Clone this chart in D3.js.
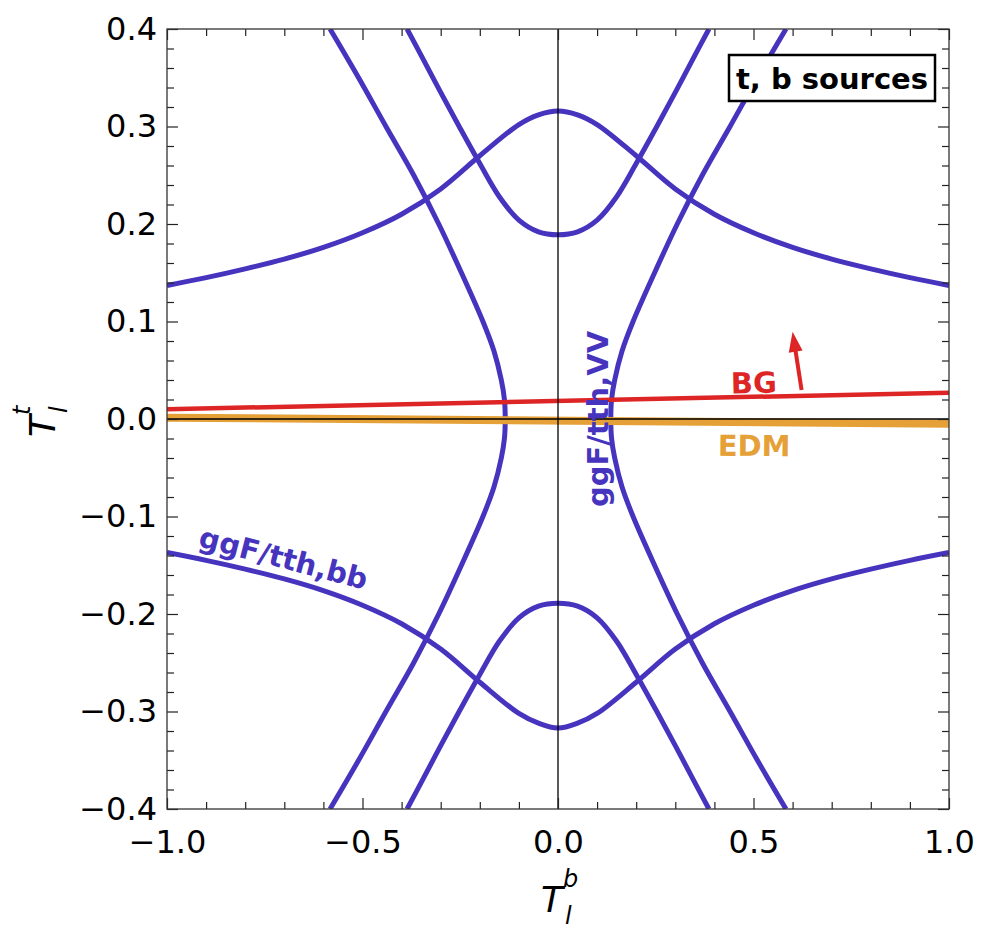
<!DOCTYPE html>
<html>
<head>
<meta charset="utf-8">
<script src="https://cdn.jsdelivr.net/npm/d3@7"></script>
<style>
  html, body { margin: 0; padding: 0; background: #fff; }
  svg { display: block; font-family: "DejaVu Sans", sans-serif; }
</style>
</head>
<body>
<svg id="chart" width="986" height="930"></svg>
<script>
// Axis ranges and ticks
const xDomain = [-1, 1];
const yDomain = [-0.4, 0.4];
const xMajorTicks = [-1, -0.5, 0, 0.5, 1];
const xMinorTicks = [-0.9, -0.8, -0.7, -0.6, -0.4, -0.3, -0.2, -0.1, 0.1, 0.2, 0.3, 0.4, 0.6, 0.7, 0.8, 0.9];
const yMajorTicks = [-0.4, -0.3, -0.2, -0.1, 0, 0.1, 0.2, 0.3, 0.4];
const yMinorTicks = [-0.38, -0.36, -0.34, -0.32, -0.28, -0.26, -0.24, -0.22, -0.18, -0.16, -0.14, -0.12,
  -0.08, -0.06, -0.04, -0.02, 0.02, 0.04, 0.06, 0.08, 0.12, 0.14, 0.16, 0.18, 0.22, 0.24, 0.26, 0.28,
  0.32, 0.34, 0.36, 0.38];

// ggF/tth, bb contours: outer (bell-shaped) branches, [T_l^b, T_l^t]
const bbOuterTop = [[-1, 0.137], [-0.9, 0.145], [-0.8, 0.154], [-0.7, 0.164], [-0.6, 0.176], [-0.5, 0.191],
  [-0.4, 0.210], [-0.3, 0.236], [-0.2, 0.270], [-0.1, 0.302], [-0.05, 0.312], [0, 0.316], [0.05, 0.312],
  [0.1, 0.302], [0.2, 0.270], [0.3, 0.236], [0.4, 0.210], [0.5, 0.191], [0.6, 0.176], [0.7, 0.164],
  [0.8, 0.154], [0.9, 0.145], [1, 0.137]];
const bbOuterBottom = [[-1, -0.137], [-0.9, -0.145], [-0.8, -0.154], [-0.7, -0.164], [-0.6, -0.176], [-0.5, -0.191],
  [-0.4, -0.210], [-0.3, -0.236], [-0.2, -0.270], [-0.1, -0.302], [-0.05, -0.312], [0, -0.317], [0.05, -0.312],
  [0.1, -0.302], [0.2, -0.270], [0.3, -0.236], [0.4, -0.210], [0.5, -0.191], [0.6, -0.176], [0.7, -0.164],
  [0.8, -0.154], [0.9, -0.145], [1, -0.137]];
// ggF/tth, bb contours: inner (U-shaped) branches
const bbInnerTop = [[-0.386, 0.4], [-0.35, 0.373], [-0.3, 0.335], [-0.25, 0.298], [-0.2, 0.262], [-0.15, 0.228],
  [-0.1, 0.204], [-0.05, 0.192], [0, 0.189], [0.05, 0.192], [0.1, 0.204], [0.15, 0.228], [0.2, 0.262],
  [0.25, 0.298], [0.3, 0.335], [0.35, 0.373], [0.386, 0.4]];
const bbInnerBottom = [[-0.386, -0.4], [-0.35, -0.373], [-0.3, -0.335], [-0.25, -0.298], [-0.2, -0.262], [-0.15, -0.228],
  [-0.1, -0.204], [-0.05, -0.192], [0, -0.189], [0.05, -0.192], [0.1, -0.204], [0.15, -0.228], [0.2, -0.262],
  [0.25, -0.298], [0.3, -0.335], [0.35, -0.373], [0.386, -0.4]];
// ggF/tth, VV contours: left and right branches
const vvLeft = [[-0.583, 0.4], [-0.51, 0.35], [-0.44, 0.3], [-0.369, 0.25], [-0.305, 0.2], [-0.247, 0.15],
  [-0.192, 0.1], [-0.164, 0.07], [-0.145, 0.04], [-0.137, 0.02], [-0.135, 0], [-0.137, -0.02], [-0.145, -0.04],
  [-0.164, -0.07], [-0.192, -0.1], [-0.247, -0.15], [-0.305, -0.2], [-0.369, -0.25], [-0.44, -0.3],
  [-0.51, -0.35], [-0.583, -0.4]];
const vvRight = [[0.583, 0.4], [0.51, 0.35], [0.44, 0.3], [0.369, 0.25], [0.305, 0.2], [0.247, 0.15],
  [0.192, 0.1], [0.164, 0.07], [0.145, 0.04], [0.137, 0.02], [0.135, 0], [0.137, -0.02], [0.145, -0.04],
  [0.164, -0.07], [0.192, -0.1], [0.247, -0.15], [0.305, -0.2], [0.369, -0.25], [0.44, -0.3],
  [0.51, -0.35], [0.583, -0.4]];
// Baryogenesis (BG) line and the EDM band centre line
const bgLine = [[-1, 0.010], [1, 0.027]];
const edmLine = [[-1, 0.0014], [1, -0.0049]];
// Arrow pointing to the BG-allowed side
const bgArrow = [[0.623, 0.0297], [0.600, 0.0894]];

const COL_BLUE = "#4634BE";
const COL_RED = "#DD2525";
const COL_ORANGE = "#E5A138";

const svg = d3.select("#chart");
const L = 167, R = 949, T = 29, B = 809;
const x = d3.scaleLinear().domain(xDomain).range([L, R]);
const y = d3.scaleLinear().domain(yDomain).range([B, T]);

svg.append("defs").append("clipPath").attr("id", "plotClip")
  .append("rect").attr("x", L).attr("y", T).attr("width", R - L).attr("height", B - T);

const plot = svg.append("g").attr("clip-path", "url(#plotClip)");
const smooth = d3.line().x(d => x(d[0])).y(d => y(d[1])).curve(d3.curveCatmullRom.alpha(0.5));
const straight = d3.line().x(d => x(d[0])).y(d => y(d[1]));

[bbOuterTop, bbOuterBottom, bbInnerTop, bbInnerBottom, vvLeft, vvRight].forEach(c => {
  plot.append("path").attr("d", smooth(c)).attr("fill", "none")
    .attr("stroke", COL_BLUE).attr("stroke-width", 5).attr("stroke-linejoin", "round");
});

plot.append("path").attr("d", straight(edmLine)).attr("fill", "none")
  .attr("stroke", COL_ORANGE).attr("stroke-width", 8);
plot.append("path").attr("d", straight(bgLine)).attr("fill", "none")
  .attr("stroke", COL_RED).attr("stroke-width", 4.5);

// zero lines
plot.append("line").attr("x1", x(0)).attr("x2", x(0)).attr("y1", T).attr("y2", B)
  .attr("stroke", "#000").attr("stroke-width", 1.3);
plot.append("line").attr("x1", L).attr("x2", R).attr("y1", y(0)).attr("y2", y(0))
  .attr("stroke", "#000").attr("stroke-width", 1.3);

// arrow
{
  const [p0, p1] = bgArrow.map(d => [x(d[0]), y(d[1])]);
  const dx = p1[0] - p0[0], dy = p1[1] - p0[1];
  const len = Math.hypot(dx, dy), ux = dx / len, uy = dy / len;
  const headLen = 20, headW = 7;
  const bx = p1[0] - ux * headLen, by = p1[1] - uy * headLen;
  plot.append("line").attr("x1", p0[0]).attr("y1", p0[1]).attr("x2", bx + ux * 2).attr("y2", by + uy * 2)
    .attr("stroke", COL_RED).attr("stroke-width", 4);
  plot.append("path")
    .attr("d", `M${p1[0]},${p1[1]}L${bx - uy * headW},${by + ux * headW}L${bx + uy * headW},${by - ux * headW}Z`)
    .attr("fill", COL_RED);
}

// frame axes with inward ticks
const fmt = d3.format(".1f");
function styleAxis(g) {
  g.select(".domain").remove();
  g.selectAll(".tick line").attr("stroke", "#222").attr("stroke-width", 1.2);
  g.selectAll(".tick text").attr("font-size", 32).attr("fill", "#000")
    .attr("font-family", "DejaVu Sans, sans-serif");
}
svg.append("g").attr("transform", `translate(0,${B})`)
  .call(d3.axisBottom(x).tickValues(xMajorTicks).tickFormat(fmt).tickSize(-11).tickPadding(21)).call(styleAxis);
svg.append("g").attr("transform", `translate(0,${B})`)
  .call(d3.axisBottom(x).tickValues(xMinorTicks).tickFormat("").tickSize(-7)).call(styleAxis);
svg.append("g").attr("transform", `translate(0,${T})`)
  .call(d3.axisTop(x).tickValues(xMajorTicks).tickFormat("").tickSize(-11)).call(styleAxis);
svg.append("g").attr("transform", `translate(0,${T})`)
  .call(d3.axisTop(x).tickValues(xMinorTicks).tickFormat("").tickSize(-7)).call(styleAxis);
svg.append("g").attr("transform", `translate(${L},0)`)
  .call(d3.axisLeft(y).tickValues(yMajorTicks).tickFormat(fmt).tickSize(-11).tickPadding(10)).call(styleAxis);
svg.append("g").attr("transform", `translate(${L},0)`)
  .call(d3.axisLeft(y).tickValues(yMinorTicks).tickFormat("").tickSize(-7)).call(styleAxis);
svg.append("g").attr("transform", `translate(${R},0)`)
  .call(d3.axisRight(y).tickValues(yMajorTicks).tickFormat("").tickSize(-11)).call(styleAxis);
svg.append("g").attr("transform", `translate(${R},0)`)
  .call(d3.axisRight(y).tickValues(yMinorTicks).tickFormat("").tickSize(-7)).call(styleAxis);

svg.append("rect").attr("x", L).attr("y", T).attr("width", R - L).attr("height", B - T)
  .attr("fill", "none").attr("stroke", "#333").attr("stroke-width", 1.3);

// curve labels
const lab = svg.append("g").attr("font-weight", "bold").attr("font-size", 29);
lab.append("text").attr("transform", `translate(608,419) rotate(-90)`).attr("text-anchor", "middle")
  .attr("fill", COL_BLUE).text("ggF/tth,VV");
lab.append("text").attr("transform", `translate(281,568) rotate(14.5)`).attr("text-anchor", "middle")
  .attr("fill", COL_BLUE).text("ggF/tth,bb");
lab.append("text").attr("transform", `translate(754,393) rotate(-1.2)`).attr("text-anchor", "middle")
  .attr("fill", COL_RED).text("BG");
lab.append("text").attr("transform", `translate(754,456) rotate(0.5)`).attr("text-anchor", "middle")
  .attr("fill", COL_ORANGE).text("EDM");

// legend box
svg.append("rect").attr("x", 729).attr("y", 55).attr("width", 206).attr("height", 46)
  .attr("fill", "#fff").attr("stroke", "#000").attr("stroke-width", 2.5);
svg.append("text").attr("x", 832).attr("y", 89).attr("text-anchor", "middle")
  .attr("font-weight", "bold").attr("font-size", 29).attr("fill", "#000").text("t, b sources");

// axis titles
const xt = svg.append("g").attr("transform", "translate(541,912)").attr("font-style", "italic").attr("fill", "#000");
xt.append("text").attr("font-size", 36).text("T");
xt.append("text").attr("x", 22).attr("y", -25).attr("font-size", 24).text("b");
xt.append("text").attr("x", 24).attr("y", 12).attr("font-size", 24).text("l");

const yt = svg.append("g").attr("transform", "translate(55,437) rotate(-90)").attr("font-style", "italic").attr("fill", "#000");
yt.append("text").attr("font-size", 36).text("T");
yt.append("text").attr("x", 22).attr("y", -25).attr("font-size", 24).text("t");
yt.append("text").attr("x", 24).attr("y", 12).attr("font-size", 24).text("l");
</script>
</body>
</html>
